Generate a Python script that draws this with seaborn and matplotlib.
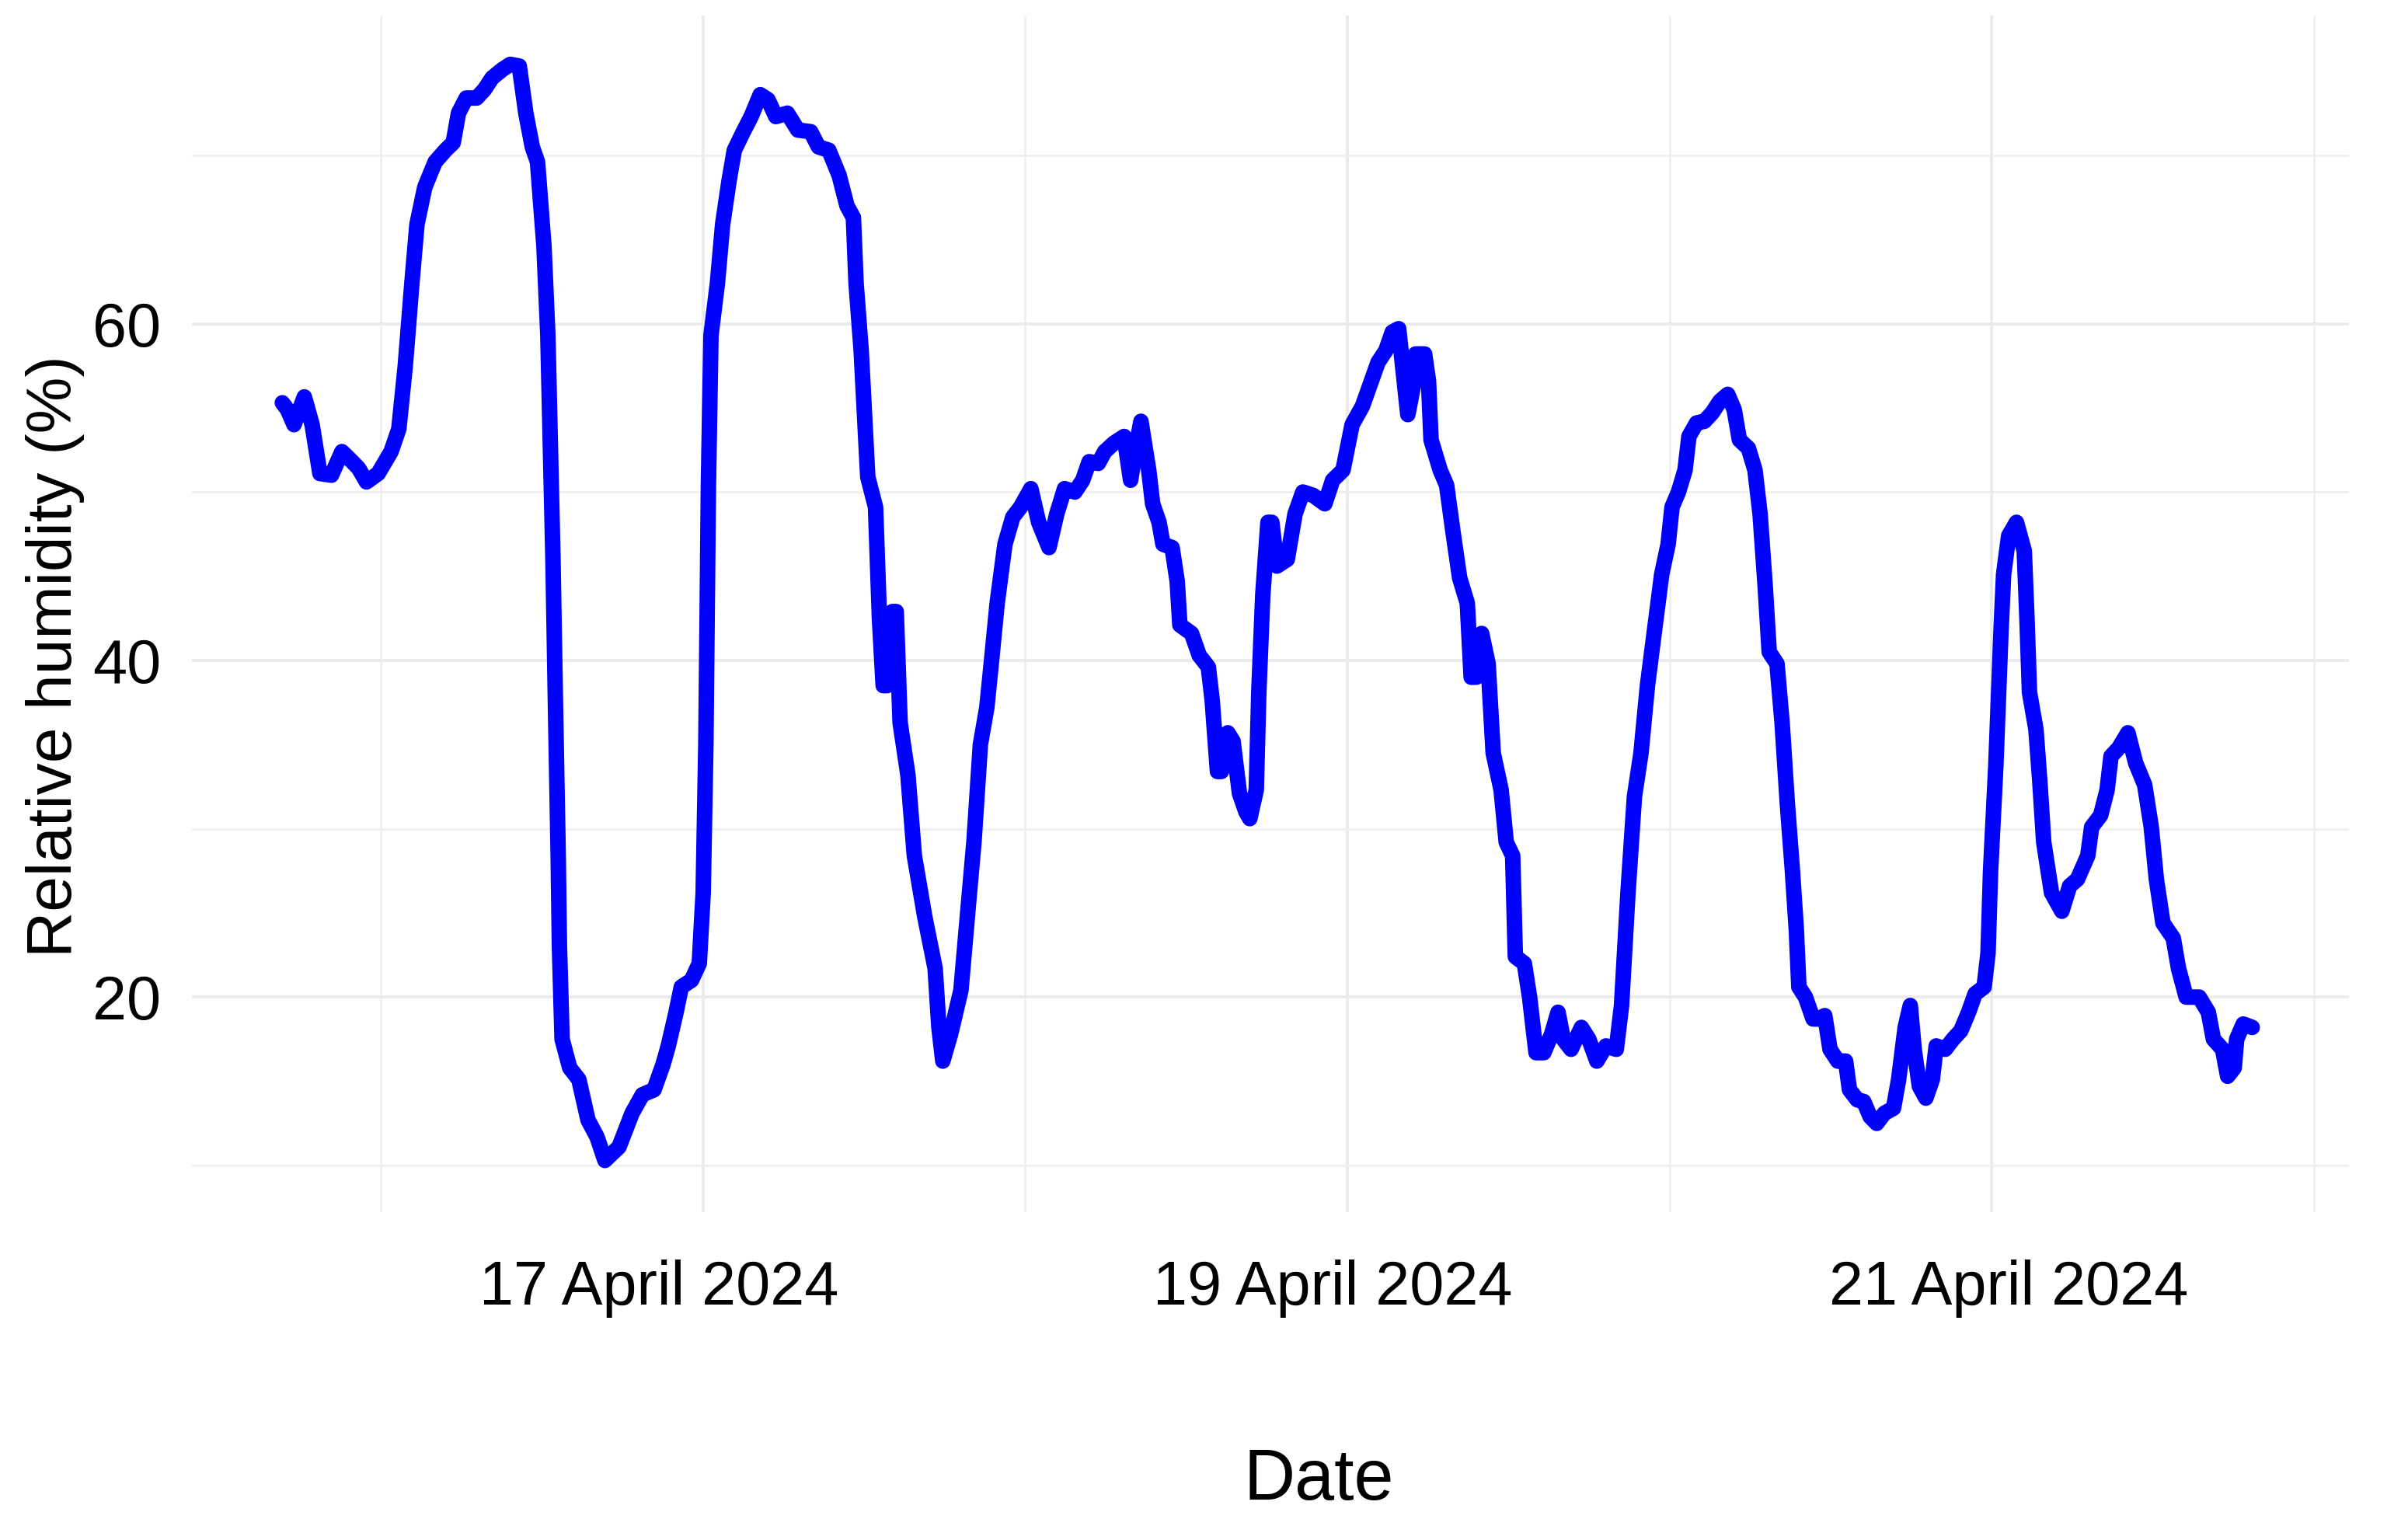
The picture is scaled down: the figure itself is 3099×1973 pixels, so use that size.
import numpy as np
import pandas as pd
import matplotlib
matplotlib.use("Agg")
import matplotlib.pyplot as plt
import matplotlib.dates as mdates
import matplotlib.transforms as mtransforms
import seaborn as sns

# ---------------- data ----------------
start_time = "2024-04-16 00:00"
# hours since 16 April 2024 00:00
hours = [
    -7.33, -6.95, -6.46, -5.69, -5.11, -4.53, -3.67, -2.89, -2.12, -1.64, -1.06, -0.19,
    0.77, 1.35, 1.83, 2.32, 2.70, 3.28, 4.05, 4.82, 5.40, 5.79, 6.37, 7.14, 7.72, 8.30,
    9.07, 9.65, 10.32, 10.81, 11.29, 11.68, 12.16, 12.45, 12.64, 12.83, 13.02, 13.22,
    13.31, 13.51, 14.08, 14.76, 15.44, 16.11, 16.70,
    17.75, 18.72, 19.49, 20.36, 21.03, 21.42, 22.00, 22.39, 23.15, 23.73, 24.02, 24.22,
    24.41, 24.60, 25.08, 25.47, 25.95, 26.34, 27.01, 27.59, 28.27, 28.85, 29.43, 30.29,
    31.07, 32.03, 32.61, 33.38, 34.15, 34.73, 35.21, 35.41, 35.79, 36.08, 36.28, 36.86,
    37.15, 37.43, 37.72, 38.11, 38.40, 38.69, 39.27, 39.75, 40.52,
    41.30, 41.58, 41.87, 42.45, 43.22, 43.80, 44.19, 44.67, 45.15, 45.54, 45.92, 46.50,
    47.08, 47.66, 48.43, 49.01, 49.78, 50.36, 50.94, 51.71, 52.29, 52.77, 53.45, 53.93,
    54.61, 55.38, 55.86, 56.25, 56.63, 57.21, 57.50, 57.98, 58.27, 58.95, 59.33, 59.53,
    60.40, 60.97, 61.65, 61.94, 62.33, 62.62, 63.10, 63.49, 63.97, 64.45,
    64.74, 65.22, 65.41, 65.70, 66.09, 66.38, 66.76, 67.53, 68.11, 68.69, 69.46, 70.33,
    70.91, 71.68, 72.36, 73.13, 73.71, 74.29, 74.87, 75.35, 75.83, 76.12, 76.51, 76.90,
    77.09, 77.76, 78.05, 78.24, 78.92, 79.40, 79.88, 80.37, 80.94, 81.23, 81.62, 82.01,
    82.49, 82.87, 83.46, 83.84, 84.32, 84.52, 85.19, 85.58, 86.06, 86.64, 87.22, 87.70,
    88.09, 88.67,
    89.44, 89.99, 90.59, 91.27, 92.04, 92.43, 92.91, 93.39, 93.88, 94.36, 94.94, 95.42,
    95.90, 96.19, 96.67, 97.16, 97.45, 98.02, 98.60, 99.18, 99.76, 100.34, 100.82, 101.21,
    101.88, 102.37, 102.75, 103.14, 103.43, 104.01, 104.39, 104.78, 105.16, 105.45, 105.64,
    106.13, 106.70, 107.09, 107.57, 107.96, 108.54, 109.12, 109.41, 109.99, 110.47, 110.95,
    111.44, 112.01, 112.69, 113.07, 113.56,
    113.94, 114.23, 114.62, 115.10, 115.58, 115.87, 116.54, 117.12, 117.70, 118.28, 118.77,
    119.44, 119.73, 119.92, 120.31, 120.69, 120.89, 121.27, 121.85, 122.43, 122.63, 122.82,
    123.30, 123.59, 123.88, 124.46, 125.23, 125.81, 126.39, 127.16, 127.45, 128.12, 128.60,
    128.89, 129.47, 130.15, 130.73, 131.40, 131.89, 132.27, 132.76, 133.53, 133.92, 134.49,
    135.46, 136.14, 136.52, 137.20, 137.58, 138.07, 138.25, 138.74, 139.41,
]
relative_humidity = [
    55.3, 54.9, 54.0, 55.65, 54.0, 51.1, 51.0, 52.4, 51.8, 51.4, 50.6, 51.1,
    52.4, 53.75, 57.5, 62.4, 65.9, 68.1, 69.6, 70.3, 70.75, 72.5, 73.4, 73.4, 73.9, 74.6,
    75.1, 75.4, 75.3, 72.5, 70.5, 69.6, 64.6, 59.3, 52.6, 46.0, 37.2, 28.4,
    23.1, 17.5, 15.8, 15.1, 12.7, 11.7, 10.3,
    11.1, 13.1, 14.2, 14.5, 16.0, 17.1, 19.1, 20.6, 21.0, 22.0, 26.2, 35.0,
    50.4, 59.3, 62.4, 65.9, 68.5, 70.3, 71.4, 72.3, 73.6, 73.3, 72.3, 72.5,
    71.5, 71.4, 70.5, 70.3, 68.8, 67.0, 66.3, 62.4, 58.4, 54.0, 50.9, 49.1,
    42.5, 38.5, 38.5, 42.9, 42.9, 36.3, 33.2, 28.4, 24.8,
    21.7, 18.2, 16.2, 17.8, 20.4, 25.7, 29.2, 35.0, 37.2, 40.3, 43.4, 46.9,
    48.5, 49.1, 50.2, 48.2, 46.7, 48.7, 50.2, 50.0, 50.7, 51.8, 51.7, 52.4,
    52.9, 53.3, 50.7, 52.6, 54.2, 51.3, 49.3, 48.2, 46.9, 46.7, 44.7, 42.1,
    41.6, 40.3, 39.6, 37.6, 33.4, 33.4, 35.7, 35.2, 32.1, 31.0,
    30.6, 32.3, 38.1, 43.8, 48.2, 48.2, 45.6, 46.0, 48.7, 50.0, 49.8, 49.3,
    50.7, 51.3, 54.0, 55.1, 56.4, 57.7, 58.4, 59.5, 59.7, 57.5, 54.6, 56.2,
    58.2, 58.2, 56.6, 53.1, 51.3, 50.4, 47.6, 44.9, 43.4, 39.0, 39.0, 41.6,
    39.8, 34.5, 32.3, 29.2, 28.4, 22.4, 22.0, 20.0, 16.7, 16.7, 17.8, 19.1,
    17.5, 16.9,
    18.2, 17.5, 16.2, 17.1, 16.9, 19.5, 26.2, 31.9, 34.5, 38.5, 42.1, 45.1,
    46.9, 49.1, 50.0, 51.3, 53.3, 54.1, 54.2, 54.7, 55.4, 55.8, 54.9, 53.1,
    52.6, 51.3, 48.7, 44.3, 40.5, 39.8, 36.3, 31.5, 27.5, 24.0, 20.6,
    20.0, 18.7, 18.7, 18.9, 16.9, 16.2, 16.2, 14.5, 13.9, 13.8, 12.9,
    12.5, 13.1, 13.4, 15.1, 18.2,
    19.5, 16.9, 14.7, 14.0, 15.1, 17.1, 16.9, 17.5, 18.0, 19.1, 20.2,
    20.6, 22.6, 27.5, 33.7, 41.6, 45.1, 47.4, 48.2, 46.5, 42.5, 38.1,
    35.9, 32.8, 29.2, 26.2, 25.1, 26.6, 27.0, 28.4, 30.1, 30.8, 32.3,
    34.3, 34.8, 35.7, 33.9, 32.6, 30.1, 27.0, 24.4, 23.5, 21.7, 20.0,
    20.0, 19.1, 17.5, 16.9, 15.3, 15.8, 17.5, 18.4, 18.2,
]
x_major_dates = ["2024-04-17", "2024-04-19", "2024-04-21"]
x_minor_dates = ["2024-04-16", "2024-04-18", "2024-04-20", "2024-04-22"]
y_major_ticks = [20, 40, 60]
y_minor_ticks = [10, 30, 50, 70]
x_title = "Date"
y_title = "Relative humidity (%)"

# ---------------- style ----------------
sns.set_theme(style="white")
plt.rcParams["font.family"] = ["Liberation Sans", "DejaVu Sans"]

t0 = pd.Timestamp(start_time)
df = pd.DataFrame({
    "time": t0 + pd.to_timedelta(hours, unit="h"),
    "rh": relative_humidity,
})

W, H, DPI = 3099, 1973, 200
fig = plt.figure(figsize=(W / DPI, H / DPI), dpi=DPI)
fig.patch.set_facecolor("white")
ax = fig.add_axes([247 / W, 1 - 1560 / H, (3023 - 247) / W, (1560 - 20) / H])
ax.set_facecolor("white")

sns.lineplot(data=df, x="time", y="rh", ax=ax, color="#0000FF",
             linewidth=7.2, sort=False, zorder=3,
             solid_joinstyle="round", solid_capstyle="round")

ax.set_xlim(mdates.date2num(t0 - pd.Timedelta(days=0.586)),
            mdates.date2num(t0 + pd.Timedelta(days=6.109)))
ax.set_ylim(7.23, 78.3)

ax.set_xticks(mdates.date2num(pd.to_datetime(x_major_dates)))
ax.set_xticks(mdates.date2num(pd.to_datetime(x_minor_dates)), minor=True)
ax.xaxis.set_major_formatter(mdates.DateFormatter("%-d %B %Y"))
ax.set_yticks(y_major_ticks)
ax.set_yticks(y_minor_ticks, minor=True)
ax.set_yticklabels([str(v) for v in y_major_ticks])

ax.set_axisbelow(True)
ax.grid(which="major", color="#EBEBEB", linewidth=1.4)
ax.grid(which="minor", color="#EEEEEE", linewidth=0.9)
for s in ax.spines.values():
    s.set_visible(False)

ax.tick_params(axis="both", which="both", length=0)
ax.tick_params(axis="x", which="major", labelsize=28.5, pad=22, colors="black")
ax.tick_params(axis="y", which="major", labelsize=28.5, pad=14.4, colors="black")

# small horizontal shifts of the date labels as seen in the reference
label_shift_px = [-56, -19, 22]
for lab, dx in zip(ax.get_xticklabels(), label_shift_px):
    lab.set_transform(lab.get_transform() +
                      mtransforms.ScaledTranslation(dx / DPI, 0, fig.dpi_scale_trans))

ax.set_xlabel(x_title, fontsize=33, color="black", va="baseline", ha="center")
ax.xaxis.set_label_coords(1697 / W, 1 - 1930 / H, transform=fig.transFigure)
ax.set_ylabel(y_title, fontsize=29.5, color="black", va="center", ha="center")
ax.yaxis.set_label_coords(71 / W, 1 - 845 / H, transform=fig.transFigure)

fig.savefig("out.png", dpi=DPI, facecolor="white")
